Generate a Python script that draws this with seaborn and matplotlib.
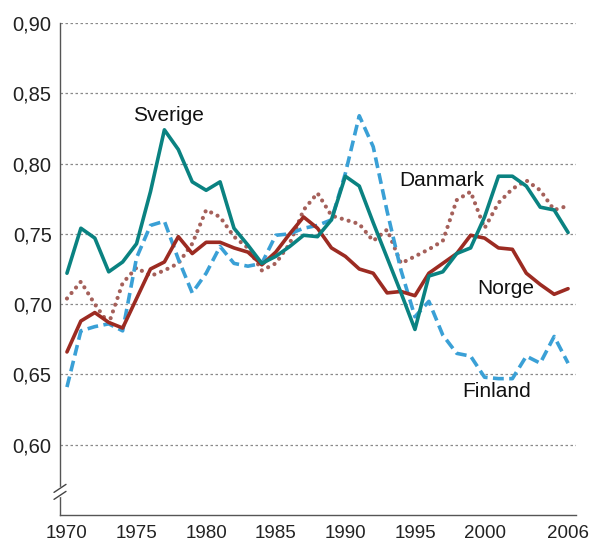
import matplotlib
matplotlib.use("Agg")
import matplotlib.pyplot as plt
import seaborn as sns
import pandas as pd

# Annual values 1970-2006
years = list(range(1970, 2007))

sverige = [0.722, 0.754, 0.747, 0.723, 0.730, 0.743, 0.780, 0.824, 0.810, 0.787,
           0.781, 0.787, 0.754, 0.742, 0.729, 0.734, 0.741, 0.749, 0.748, 0.760,
           0.791, 0.784, 0.758, 0.733, 0.708, 0.682, 0.720, 0.723, 0.736, 0.740,
           0.762, 0.791, 0.791, 0.784, 0.769, 0.767, 0.751]

finland = [0.641, 0.681, 0.684, 0.686, 0.681, 0.733, 0.756, 0.759, 0.732, 0.708,
           0.722, 0.741, 0.729, 0.727, 0.729, 0.749, 0.750, 0.754, 0.756, 0.760,
           0.793, 0.834, 0.812, 0.766, 0.724, 0.691, 0.702, 0.678, 0.665, 0.663,
           0.648, 0.647, 0.647, 0.663, 0.658, 0.677, 0.658]

norge = [0.666, 0.688, 0.694, 0.687, 0.683, 0.704, 0.725, 0.730, 0.748, 0.736,
         0.744, 0.744, 0.740, 0.737, 0.728, 0.737, 0.750, 0.762, 0.754, 0.740,
         0.734, 0.725, 0.722, 0.708, 0.709, 0.706, 0.722, 0.729, 0.736, 0.749,
         0.747, 0.740, 0.739, 0.722, 0.714, 0.707, 0.711]

danmark = [0.704, 0.716, 0.700, 0.686, 0.715, 0.726, 0.720, 0.724, 0.729, 0.743,
           0.767, 0.762, 0.748, 0.740, 0.724, 0.729, 0.743, 0.767, 0.779, 0.763,
           0.760, 0.757, 0.745, 0.753, 0.729, 0.734, 0.739, 0.745, 0.774, 0.780,
           0.754, 0.772, 0.782, 0.788, 0.781, 0.767, 0.770]

y_ticks = [0.60, 0.65, 0.70, 0.75, 0.80, 0.85, 0.90]
y_ticklabels = ["0,60", "0,65", "0,70", "0,75", "0,80", "0,85", "0,90"]
x_labelled = [1970, 1975, 1980, 1985, 1990, 1995, 2000, 2006]

sns.set_theme(style="white")
plt.rcParams["font.family"] = ["Liberation Sans", "DejaVu Sans"]

df = pd.DataFrame({"year": years, "Sverige": sverige, "Finland": finland,
                   "Norge": norge, "Danmark": danmark})

fig = plt.figure(figsize=(5.93, 5.42), dpi=100)
ax = fig.add_axes([60 / 593, 1 - 515 / 542, 516 / 593, 492 / 542])

lw = 2.6
styles = {
    "Danmark": dict(color="#a5605a", linestyle=(0, (0.01, 1.7)),
                    dash_capstyle="round", linewidth=lw + 0.4),
    "Finland": dict(color="#3aa0d6", linestyle=(0, (3.0, 1.5)), linewidth=lw),
    "Norge": dict(color="#9c2b22", linestyle="-", linewidth=lw),
    "Sverige": dict(color="#0a8281", linestyle="-", linewidth=lw),
}
for name, kw in styles.items():
    sns.lineplot(data=df, x="year", y=name, ax=ax, **kw)

ax.set_xlim(1969.5, 2006.57)
ax.set_ylim(0.55, 0.90)
ax.set_xlabel("")
ax.set_ylabel("")

ax.set_yticks(y_ticks)
ax.set_yticklabels(y_ticklabels)
ax.set_xticks(years)
ax.set_xticklabels([str(y) if y in x_labelled else "" for y in years])
ax.tick_params(axis="x", direction="in", length=8.5, width=0.9, color="#555555",
               labelsize=13.5, pad=7, labelcolor="#222222")
ax.tick_params(axis="y", length=0, labelsize=14.5, pad=6, labelcolor="#222222")

ax.yaxis.grid(True, linestyle=(0, (2, 2)), color="#8a8a8a", linewidth=0.9)
ax.xaxis.grid(False)
ax.set_axisbelow(True)

for side in ("top", "right"):
    ax.spines[side].set_visible(False)
for side in ("left", "bottom"):
    ax.spines[side].set_color("#555555")
    ax.spines[side].set_linewidth(1.0)

# Axis break marker on the value axis
bx, by = 0.0, 0.047
dx, dy = 6 / 516, 4 / 492
gap = 7 / 492
ax.plot([bx, bx], [by - gap / 2, by + gap / 2], color="white", lw=2.5,
        transform=ax.transAxes, clip_on=False, zorder=5)
for off in (-gap / 2, gap / 2):
    ax.plot([bx - dx, bx + dx], [by + off - dy, by + off + dy], color="#444444",
            lw=1.0, transform=ax.transAxes, clip_on=False, zorder=6)

# Series names next to their lines
labels = {"Sverige": (1977.3, 0.8345), "Danmark": (1996.9, 0.788),
          "Norge": (2001.55, 0.711), "Finland": (2000.9, 0.638)}
for name, (lx, ly) in labels.items():
    ax.text(lx, ly, name, ha="center", va="center", fontsize=15, color="#111111")

fig.savefig("out.png", dpi=100)
